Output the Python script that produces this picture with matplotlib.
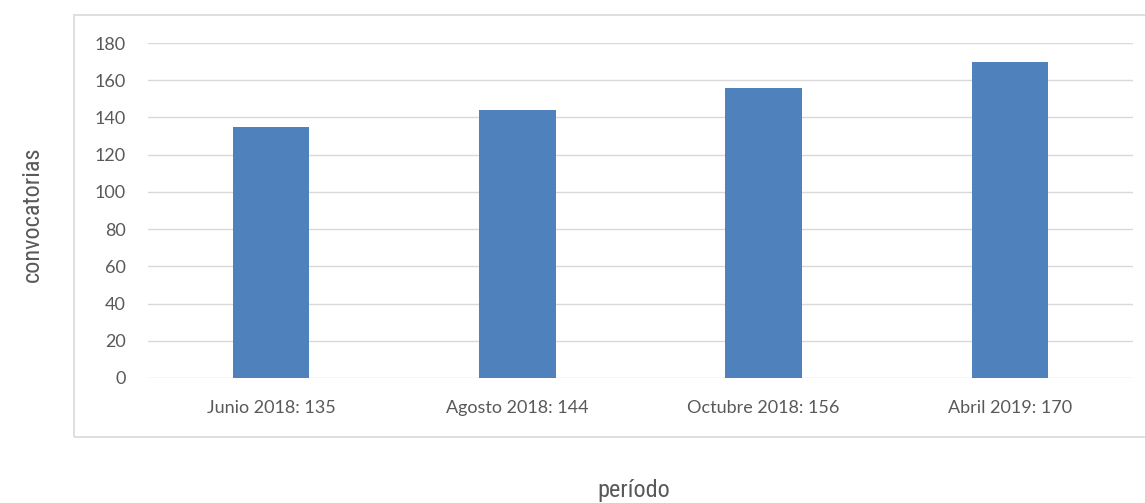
import matplotlib.pyplot as plt
import matplotlib.patches as patches
import numpy as np

# data
periodos = ["Junio 2018", "Agosto 2018", "Octubre 2018", "Abril 2019"]
convocatorias = [135, 144, 156, 170]
etiquetas = ["%s: %d" % (p, v) for p, v in zip(periodos, convocatorias)]
yticks = [0, 20, 40, 60, 80, 100, 120, 140, 160, 180]

W, H = 1145, 503
fig = plt.figure(figsize=(W / 100, H / 100), dpi=100)

# outer chart frame (light gray box, open to the right edge)
frame = patches.Rectangle((74 / W, 1 - 437 / H), 1.0, (437 - 15) / H,
                          transform=fig.transFigure, fill=False,
                          edgecolor="#d9d9d9", linewidth=1.2)
fig.patches.append(frame)

ax = fig.add_axes([148 / W, 1 - 378 / H, (1133 - 148) / W, (378 - 43) / H])
x = np.arange(len(periodos))
ax.bar(x, convocatorias, width=0.31, color="#4f81bd", zorder=3)

ax.set_xlim(-0.5, len(periodos) - 0.5)
ax.set_ylim(0, 180)
ax.set_yticks(yticks)
ax.set_xticks(x)
ax.set_xticklabels(etiquetas)
ax.grid(axis="y", color="#d9d9d9", linewidth=1, zorder=0)
for s in ax.spines.values():
    s.set_visible(False)
ax.tick_params(length=0, colors="#595959", labelsize=13, pad=16)
ax.tick_params(axis="y", pad=16)
for lab in ax.get_xticklabels() + ax.get_yticklabels():
    lab.set_family(["Lato", "DejaVu Sans"])

narrow = ["Roboto Condensed", "Liberation Sans Narrow", "Roboto", "DejaVu Sans"]
fig.text(32 / W, 1 - 214 / H, "convocatorias", rotation=90, ha="center",
         va="center", fontsize=17.5, color="#595959", family=narrow)
fig.text(634 / W, 1 - 490 / H, "período", ha="center", va="center",
         fontsize=17.5, color="#595959", family=narrow)

fig.savefig("out.png", dpi=100)
